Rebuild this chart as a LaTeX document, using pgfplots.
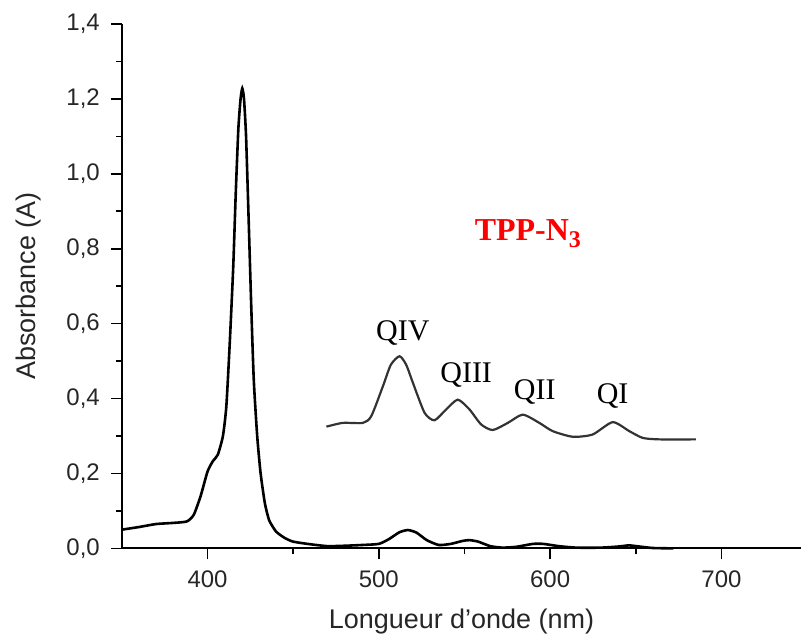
\documentclass[border=0pt]{standalone}
\usepackage{fontspec}
\setmainfont{Liberation Sans}
\newfontfamily\serifl{Liberation Serif}
\usepackage{pgfplots}
\pgfplotsset{compat=1.18}
\begin{document}
\begin{tikzpicture}
\begin{axis}[
  scale only axis,
  width=340pt, height=262.5pt,
  xmin=350, xmax=746.5, ymin=0, ymax=1.4,
  axis lines=left,
  axis line style={-, line width=0.9pt},
  tick align=outside,
  major tick length=5.5pt, minor tick length=3pt,
  every tick/.style={black, line width=0.8pt},
  xtick={400,500,600,700},
  minor xtick={450,550,650},
  ytick={0,0.2,...,1.4},
  minor ytick={0.1,0.3,...,1.3},
  /pgf/number format/assume math mode=true,
  yticklabel style={/pgf/number format/.cd, use comma, fixed, fixed zerofill, precision=1, /tikz/.cd, xshift=-2pt},
  xticklabel style={/pgf/number format/.cd, set thousands separator={}, /tikz/.cd, yshift=-2pt},
  ticklabel style={font=\fontsize{12}{14}\selectfont, text=black!85},
  xlabel={Longueur d{\char"27}onde (nm)},
  ylabel={Absorbance (A)},
  label style={font=\fontsize{13.5}{16}\selectfont, text=black!85},
  xlabel style={yshift=-4pt},
  ylabel style={yshift=6pt},
  clip=false,
]
\path (rel axis cs:0,0) ++(-61pt,-42.5pt) coordinate (bl);
\path (rel axis cs:1,1) ++(0,12pt) coordinate (tr);
\addplot[black, line width=1.3pt, smooth, tension=0.35] coordinates {
(350,0.050) (360,0.057) (370,0.065) (380,0.068) (388,0.072) (392,0.09)
(396,0.14) (400,0.205) (403,0.232) (406,0.25) (409,0.30) (411,0.38)
(413,0.55) (415,0.75) (416.5,0.95) (418,1.12) (419.3,1.20) (420.3,1.228)
(421.3,1.20) (422.5,1.10) (424,0.88) (425.5,0.65) (427,0.45) (429,0.30)
(431,0.20) (433.5,0.12) (436,0.075) (440,0.045) (445,0.028) (450,0.018)
(460,0.011) (470,0.006) (480,0.007) (490,0.009) (500,0.012) (506,0.025)
(512,0.043) (517,0.049) (522,0.042) (528,0.022) (535,0.009) (542,0.012)
(549,0.020) (553,0.022) (558,0.018) (565,0.006) (572,0.002) (580,0.004)
(590,0.012) (596,0.012) (605,0.006) (615,0.002) (630,0.002) (640,0.005)
(646,0.008) (652,0.005) (660,0.001) (672,0.0)
};
\addplot[black!80, line width=1.1pt, smooth, tension=0.4] coordinates {
(469.4,0.325) (479,0.335) (490.7,0.335) (495.6,0.353) (502.4,0.433)
(507,0.49) (512.1,0.513) (516,0.49) (519.9,0.442) (526.7,0.362)
(532.5,0.342) (539.3,0.371) (546.1,0.397) (552.9,0.371) (559.7,0.331)
(566.5,0.316) (575.3,0.335) (584,0.357) (593.7,0.335) (601.5,0.313)
(613.2,0.298) (624.8,0.304) (636.5,0.337) (646.2,0.313) (654,0.295)
(663.7,0.291) (685.1,0.291)
};
\node[font=\serifl\fontsize{15}{17}\selectfont] at (axis cs:514,0.576) {QIV};
\node[font=\serifl\fontsize{15}{17}\selectfont] at (axis cs:551,0.462) {QIII};
\node[font=\serifl\fontsize{15}{17}\selectfont] at (axis cs:591,0.418) {QII};
\node[font=\serifl\fontsize{15}{17}\selectfont] at (axis cs:636.5,0.408) {QI};
\node[font=\serifl\bfseries\fontsize{16}{18}\selectfont, text=red] at (axis cs:587,0.84) {TPP-N\raisebox{-0.45ex}{\fontsize{12}{14}\selectfont 3}};
\end{axis}
\end{tikzpicture}
\end{document}
